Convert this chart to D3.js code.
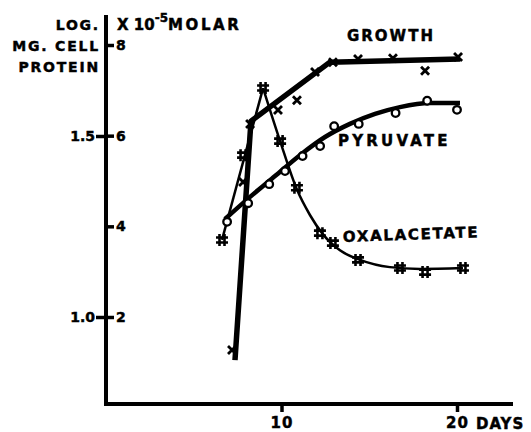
<!DOCTYPE html>
<html><head><meta charset="utf-8">
<script src="https://cdn.jsdelivr.net/npm/d3@7"></script>
<style>
body{margin:0;background:#fff;}
text{font-family:"DejaVu Sans",sans-serif;font-weight:bold;fill:#000;stroke:#000;stroke-width:0.45px;}
</style></head>
<body><svg id="c" width="531" height="432"></svg>
<script>
// ---- data ----
const growthDays   = [7.18, 7.81, 8.21, 9.8, 10.88, 11.91, 12.93, 14.36, 16.35, 18.18, 20.06];
const growthLog    = [0.909, 1.373, 1.533, 1.572, 1.599, 1.677, 1.704, 1.713, 1.715, 1.680, 1.718];
const growthFitDays = [7.35, 8.26, 12.76, 20.17];
const growthFitLog  = [0.881, 1.541, 1.704, 1.713];

const pyrDays = [6.9, 8.1, 9.3, 10.2, 11.2, 12.2, 13.0, 14.4, 16.5, 18.3, 20.0];
const pyrVals = [4.10, 4.51, 4.93, 5.22, 5.55, 5.77, 6.21, 6.26, 6.50, 6.77, 6.57];
const pyrFitDays = [6.78, 8.21, 9.63, 11.05, 12.48, 13.9, 15.33, 16.75, 18.46, 20.17];
const pyrFitVals = [4.16, 4.65, 5.11, 5.57, 5.97, 6.26, 6.48, 6.63, 6.72, 6.72];

const oxaDays = [6.61, 7.81, 8.95, 9.92, 10.88, 12.19, 12.93, 14.36, 16.75, 18.18, 20.34];
const oxaVals = [3.70, 5.57, 7.05, 5.88, 4.85, 3.85, 3.63, 3.26, 3.08, 2.99, 3.08];
const oxaRiseDays = [6.61, 8.95];
const oxaRiseVals = [3.70, 7.05];
const oxaFallDays = [8.95, 9.92, 10.88, 11.62, 12.31, 13.33, 14.47, 16.18, 17.89, 20.34];
const oxaFallVals = [7.05, 5.88, 4.81, 4.25, 3.85, 3.47, 3.26, 3.10, 3.06, 3.08];

const xTicks = [10, 20];
const molarTicks = [2, 4, 6, 8];
const logTicks = [1.0, 1.5];

// ---- scales ----
const svg = d3.select("#c");
const x = d3.scaleLinear().domain([0, 20]).range([106, 457]);
const yM = d3.scaleLinear().domain([2, 8]).range([317, 45]);
const yL = d3.scaleLinear().domain([1.0, 1.5]).range([317, 136]);
const xAxisY = 404;

// axis lines
svg.append("line").attr("x1", x(0)).attr("x2", 513).attr("y1", xAxisY).attr("y2", xAxisY)
  .attr("stroke", "#000").attr("stroke-width", 4);
svg.append("line").attr("x1", x(0)).attr("x2", x(0)).attr("y1", 15).attr("y2", xAxisY + 2)
  .attr("stroke", "#000").attr("stroke-width", 4);

// x axis ticks
const gx = svg.append("g").attr("transform", `translate(0,${xAxisY})`)
  .call(d3.axisBottom(x).tickValues(xTicks).tickSize(8).tickPadding(5).tickFormat(d3.format("d")));
gx.select(".domain").remove();
gx.selectAll(".tick line").attr("stroke-width", 3.5);
gx.selectAll(".tick text").style("font-size", "15px").style("letter-spacing", "1px").attr("dy", "0.72em");
svg.append("text").attr("x", 476).attr("y", 429)
  .style("font-size", "15px").style("letter-spacing", "1px").text("DAYS");

// right-side molar ticks
const gm = svg.append("g").attr("transform", `translate(${x(0)},0)`)
  .call(d3.axisRight(yM).tickValues(molarTicks).tickSize(8).tickPadding(2).tickFormat(d3.format("d")));
gm.select(".domain").remove();
gm.selectAll(".tick line").attr("stroke-width", 3.5);
gm.selectAll(".tick text").style("font-size", "14px");

// left-side log ticks
const gl = svg.append("g").attr("transform", `translate(${x(0)},0)`)
  .call(d3.axisLeft(yL).tickValues(logTicks).tickSize(10).tickPadding(1).tickFormat(d3.format(".1f")));
gl.select(".domain").remove();
gl.selectAll(".tick line").attr("stroke-width", 3.5);
gl.selectAll(".tick text").style("font-size", "14px");

// axis titles
const lt = [["LOG.", 30], ["MG. CELL", 51], ["PROTEIN", 72]];
lt.forEach(([t, yy]) => svg.append("text").attr("x", 100).attr("y", yy).attr("text-anchor", "end")
  .style("font-size", "14px").style("letter-spacing", "1.8px").text(t));
const mt = svg.append("text").attr("x", 117).attr("y", 30).style("font-size", "15px");
mt.append("tspan").text("X 10");
mt.append("tspan").attr("dy", -8).style("font-size", "12px").text("-5");
mt.append("tspan").attr("dy", 8).style("letter-spacing", "2.6px").text("MOLAR");

// series labels
svg.append("text").attr("x", 347).attr("y", 41).style("font-size", "15px").style("letter-spacing", "2px").text("GROWTH");
svg.append("text").attr("x", 338).attr("y", 146).style("font-size", "15px").style("letter-spacing", "3.2px").text("PYRUVATE");
svg.append("text").attr("x", 343).attr("y", 242).attr("transform", "rotate(-2,343,242)")
  .style("font-size", "15px").style("letter-spacing", "1.7px").text("OXALACETATE");

// ---- lines ----
const lineM = d3.line().x(d => x(d[0])).y(d => yM(d[1]));
const lineL = d3.line().x(d => x(d[0])).y(d => yL(d[1]));
svg.append("path").datum(d3.zip(growthFitDays, growthFitLog)).attr("d", lineL)
  .attr("fill", "none").attr("stroke", "#000").attr("stroke-width", 5.5).attr("stroke-linejoin", "round");
svg.append("path").datum(d3.zip(pyrFitDays, pyrFitVals)).attr("d", lineM.curve(d3.curveMonotoneX))
  .attr("fill", "none").attr("stroke", "#000").attr("stroke-width", 4.5);
svg.append("path").datum(d3.zip(oxaRiseDays, oxaRiseVals)).attr("d", d3.line().x(d => x(d[0])).y(d => yM(d[1])))
  .attr("fill", "none").attr("stroke", "#000").attr("stroke-width", 2.5);
svg.append("path").datum(d3.zip(oxaFallDays, oxaFallVals)).attr("d", d3.line().x(d => x(d[0])).y(d => yM(d[1])).curve(d3.curveMonotoneX))
  .attr("fill", "none").attr("stroke", "#000").attr("stroke-width", 2.5);

// ---- markers ----
// growth x
svg.append("g").selectAll("path").data(d3.zip(growthDays, growthLog)).join("path")
  .attr("transform", d => `translate(${x(d[0])},${yL(d[1])})`)
  .attr("d", "M-4,-4L4,4M-4,4L4,-4").attr("stroke", "#000").attr("stroke-width", 2.8).attr("fill", "none");
// pyruvate o
svg.append("g").selectAll("circle").data(d3.zip(pyrDays, pyrVals)).join("circle")
  .attr("cx", d => x(d[0])).attr("cy", d => yM(d[1])).attr("r", 3.8)
  .attr("fill", "#fff").attr("stroke", "#000").attr("stroke-width", 2.3);
// oxalacetate #
svg.append("g").selectAll("path").data(d3.zip(oxaDays, oxaVals)).join("path")
  .attr("transform", d => `translate(${x(d[0])},${yM(d[1])})`)
  .attr("d", "M-2.5,-6L-2.5,6M2.5,-6L2.5,6M-6,-2.5L6,-2.5M-6,2.5L6,2.5")
  .attr("stroke", "#000").attr("stroke-width", 2.6).attr("fill", "none");
</script></body></html>
